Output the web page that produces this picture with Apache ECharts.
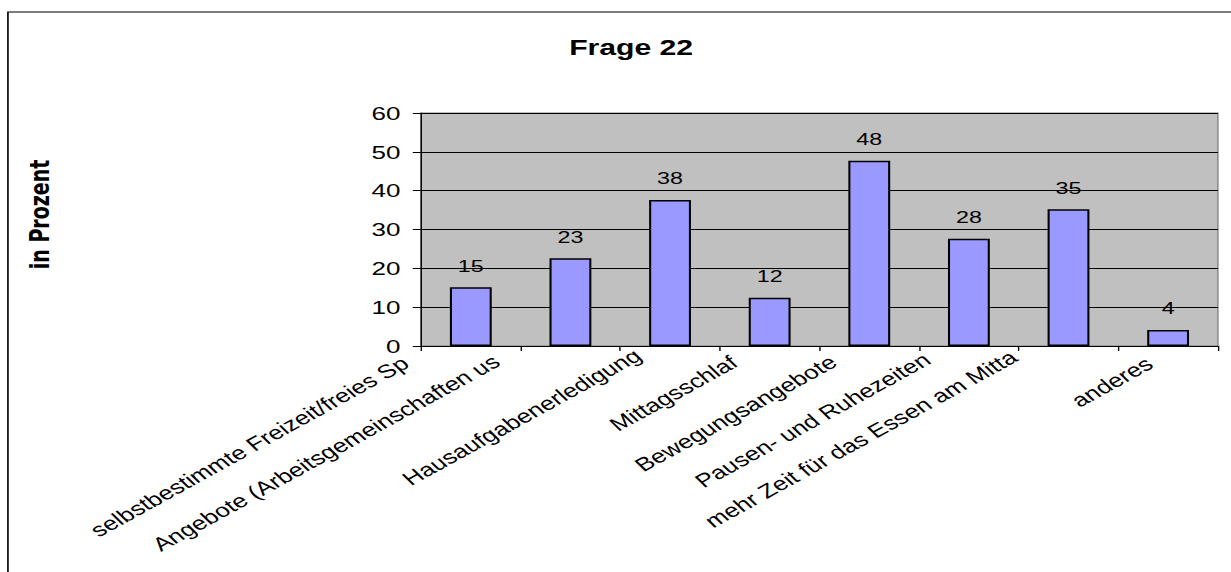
<!DOCTYPE html>
<html>
<head>
<meta charset="utf-8">
<script src="https://cdn.jsdelivr.net/npm/echarts@6/dist/echarts.min.js"></script>
<style>
html,body{margin:0;padding:0;background:#fff;overflow:hidden;}
#c{width:899px;height:572px;transform:scaleX(1.37);transform-origin:0 0;}
</style>
</head>
<body>
<div id="c"></div>
<script>
// ---- data ----
const titleText = 'Frage 22';
const yAxisName = 'in Prozent';
const categories = [
  'selbstbestimmte Freizeit/freies Sp',
  'Angebote (Arbeitsgemeinschaften us',
  'Hausaufgabenerledigung',
  'Mittagsschlaf',
  'Bewegungsangebote',
  'Pausen- und Ruhezeiten',
  'mehr Zeit für das Essen am Mitta',
  'anderes'
];
const values = [15.1, 22.6, 37.6, 12.4, 47.7, 27.6, 35.2, 4.1];
const yMin = 0, yMax = 60, yStep = 10;

// ---- styles (label offsets per category: [top, right, bottom, left]) ----
const labelPads = [
  [0, 46, 37, 0],
  [0, 50, 47, 0],
  [0, 22, 20, 0],
  [0, 28, 12, 0],
  [0, 28, 13, 0],
  [0, 30, 22, 0],
  [0, 36, 37, 0],
  [5, 19, 0, 0]
];
const FONT = '"Liberation Sans", Arial, sans-serif';
const LABEL_SIZE = 19;

const rich = {};
labelPads.forEach((p, i) => {
  rich['p' + i] = { padding: p, fontSize: LABEL_SIZE, fontFamily: FONT, color: '#000' };
});

const chart = echarts.init(document.getElementById('c'), null, { renderer: 'svg' });
chart.setOption({
  animation: false,
  backgroundColor: '#fff',
  graphic: [{
    type: 'rect',
    shape: { x: 5.8, y: 12, width: 1000, height: 700 },
    style: { fill: 'none', stroke: '#000', lineWidth: 1.2 },
    silent: true
  }],
  title: {
    text: titleText,
    left: 455.7,
    textAlign: 'center',
    top: 31,
    textStyle: { fontFamily: FONT, fontSize: 22, fontWeight: 'bold', color: '#000' }
  },
  grid: {
    left: 307.3, right: 10, top: 113, bottom: 226,
    show: true, backgroundColor: '#C0C0C0', borderColor: '#808080', borderWidth: 1,
    containLabel: false, outerBoundsMode: 'none'
  },
  xAxis: {
    type: 'category',
    data: categories,
    axisLine: { lineStyle: { color: '#000', width: 1 } },
    axisTick: { show: true, length: 5, lineStyle: { color: '#000' } },
    axisLabel: {
      interval: 0,
      rotate: 37,
      margin: 2,
      fontSize: LABEL_SIZE,
      fontFamily: FONT,
      color: '#000',
      formatter: (v, i) => '{p' + i + '|' + v + '}',
      rich: rich
    },
    splitLine: { show: false }
  },
  yAxis: {
    type: 'value',
    min: yMin, max: yMax, interval: yStep,
    name: yAxisName,
    nameLocation: 'middle',
    nameRotate: 90,
    nameGap: 269,
    nameTextStyle: {
      fontFamily: '"DejaVu Sans", sans-serif', fontSize: 19, fontWeight: 'bold', color: '#000',
      padding: [0, 0, 0, 30]
    },
    axisLine: { show: true, lineStyle: { color: '#000', width: 1 } },
    axisTick: { show: true, length: 6, lineStyle: { color: '#000' } },
    axisLabel: { fontSize: 19, fontFamily: FONT, color: '#000', margin: 15 },
    splitLine: { show: true, lineStyle: { color: '#000', width: 1 } }
  },
  series: [{
    type: 'bar',
    data: values,
    barWidth: '42%',
    itemStyle: { color: '#9999FF', borderColor: '#000', borderWidth: 1.5 },
    label: {
      show: true, position: 'top', distance: 13,
      fontFamily: FONT, fontSize: 17, color: '#000',
      formatter: p => String(Math.round(p.value))
    }
  }]
});
</script>
</body>
</html>
